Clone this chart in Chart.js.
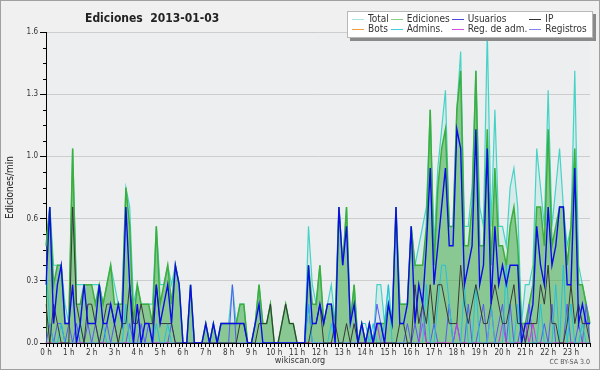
<!DOCTYPE html>
<html>
<head>
<meta charset="utf-8">
<script src="https://cdn.jsdelivr.net/npm/chart.js@4.4.1/dist/chart.umd.min.js"></script>
<style>
html, body { margin: 0; padding: 0; background: #f0f0f0; }
#wrap { position: relative; width: 600px; height: 370px; overflow: hidden; }
#marco { position: absolute; left: 0; top: 0; width: 598px; height: 368px; border: 1px solid #a0a0a0; pointer-events: none; }
canvas { position: absolute; left: 0; top: 0; }
.txt { position: absolute; font-family: "DejaVu Sans Condensed", "DejaVu Sans", sans-serif; color: #222; white-space: pre; }
#titulo { left: 85px; top: 11px; font-size: 12px; font-weight: bold; }
#leyenda { left: 347px; top: 11px; background: #fff; border: 1px solid #b8b8b8; box-shadow: 3px 3px 0 #8a8a8a;
           padding: 2px 3px 3px 4px; display: grid; grid-template-columns: repeat(4, auto); font-size: 10px; line-height: 10px; color: #333; }
.item { display: flex; align-items: center; padding-right: 2px; }
.item i { display: inline-block; width: 12px; height: 1px; margin-right: 4px; }
#sitio { left: 0; width: 600px; text-align: center; top: 355px; font-size: 9px; color: #333; }
#lic { right: 10px; top: 358px; font-size: 7px; color: #555; }
</style>
</head>
<body>
<div id="wrap">
    <canvas id="grafico" width="600" height="370"></canvas>
    <div id="titulo" class="txt">Ediciones  2013-01-03</div>
    <div id="leyenda" class="txt"></div>
    <div id="sitio" class="txt">wikiscan.org</div>
    <div id="lic" class="txt">CC BY-SA 3.0</div>
    <div id="marco"></div>
</div>
<script>
// franjas de 10 minutos (0:00 ... 23:50)
const franjas = [];
for (let h = 0; h < 24; h++) {
    for (let m = 0; m < 60; m += 10) franjas.push(h + ':' + String(m).padStart(2, '0'));
}

// ediciones por minuto, una fila por hora
const total = [
    0.5,0.7,0.4,0.4,0.4,0.2,  0.1,1.0,0.3,0.3,0.3,0.3,  0.3,0.3,0.3,0.2,0.3,0.4,  0.3,0.2,0.2,0.8,0.7,0.2,
    0.3,0.2,0.2,0.2,0.2,0.6,  0.3,0.3,0.4,0.3,0.4,0.3,  0.0,0.0,0.3,0.0,0.0,0.0,  0.1,0.0,0.1,0.0,0.1,0.1,
    0.1,0.3,0.1,0.2,0.2,0.0,  0.0,0.1,0.3,0.1,0.1,0.2,  0.0,0.0,0.1,0.2,0.1,0.1,  0.0,0.0,0.0,0.6,0.3,0.2,
    0.4,0.1,0.2,0.3,0.1,0.7,  0.4,0.7,0.1,0.3,0.0,0.1,  0.0,0.1,0.0,0.3,0.3,0.1,  0.3,0.1,0.7,0.2,0.2,0.2,
    0.6,0.4,0.5,0.6,0.7,1.2,  0.5,0.9,1.1,1.3,0.6,0.6,  1.2,1.5,0.6,0.6,0.8,1.4,  0.7,0.6,1.6,0.6,1.2,0.6,
    0.6,0.5,0.8,0.9,0.7,0.1,  0.3,0.3,0.4,1.0,0.8,0.6,  1.3,0.6,0.8,1.0,0.7,0.5,  0.6,1.4,0.4,0.3,0.2,0.1
];
const ediciones = [
    0.5,0.7,0.3,0.4,0.4,0.1,  0.1,1.0,0.2,0.2,0.3,0.3,  0.3,0.2,0.3,0.2,0.3,0.4,  0.2,0.2,0.2,0.8,0.6,0.1,
    0.3,0.2,0.2,0.2,0.1,0.6,  0.2,0.3,0.4,0.2,0.4,0.3,  0.0,0.0,0.3,0.0,0.0,0.0,  0.1,0.0,0.1,0.0,0.1,0.1,
    0.1,0.1,0.1,0.2,0.2,0.0,  0.0,0.1,0.3,0.1,0.1,0.2,  0.0,0.0,0.1,0.2,0.1,0.1,  0.0,0.0,0.0,0.4,0.2,0.2,
    0.4,0.1,0.2,0.2,0.1,0.7,  0.4,0.7,0.1,0.3,0.0,0.1,  0.0,0.1,0.0,0.1,0.1,0.1,  0.2,0.1,0.7,0.2,0.2,0.2,
    0.6,0.4,0.4,0.4,0.6,1.2,  0.4,0.8,1.0,1.1,0.6,0.6,  1.2,1.4,0.5,0.5,0.7,1.4,  0.5,0.5,1.1,0.4,0.9,0.5,
    0.5,0.4,0.6,0.7,0.5,0.1,  0.1,0.2,0.3,0.7,0.7,0.5,  1.1,0.5,0.6,0.7,0.7,0.4,  0.6,1.0,0.3,0.3,0.2,0.1
];
const usuarios = [
    0.3,0.7,0.1,0.3,0.4,0.1,  0.1,0.3,0.0,0.1,0.3,0.1,  0.1,0.1,0.3,0.1,0.1,0.2,  0.1,0.2,0.1,0.7,0.3,0.0,
    0.2,0.0,0.1,0.1,0.0,0.3,  0.1,0.2,0.3,0.1,0.4,0.3,  0.0,0.0,0.3,0.0,0.0,0.0,  0.1,0.0,0.1,0.0,0.1,0.1,
    0.1,0.1,0.1,0.1,0.1,0.0,  0.0,0.1,0.2,0.0,0.0,0.0,  0.0,0.0,0.0,0.0,0.0,0.0,  0.0,0.0,0.0,0.4,0.1,0.1,
    0.2,0.1,0.2,0.2,0.0,0.7,  0.4,0.6,0.1,0.2,0.0,0.1,  0.0,0.1,0.0,0.1,0.1,0.0,  0.2,0.1,0.7,0.1,0.1,0.2,
    0.6,0.1,0.3,0.2,0.5,0.9,  0.3,0.5,0.7,0.9,0.5,0.5,  1.1,1.0,0.3,0.4,0.5,1.1,  0.3,0.4,1.0,0.2,0.6,0.3,
    0.4,0.3,0.4,0.4,0.4,0.0,  0.1,0.1,0.2,0.6,0.4,0.3,  0.7,0.4,0.5,0.7,0.7,0.3,  0.3,0.9,0.1,0.2,0.1,0.1
];
const ip = [
    0.2,0.0,0.2,0.1,0.0,0.0,  0.0,0.7,0.2,0.1,0.0,0.2,  0.2,0.1,0.0,0.1,0.2,0.2,  0.1,0.0,0.1,0.1,0.3,0.1,
    0.1,0.2,0.1,0.1,0.1,0.3,  0.1,0.1,0.1,0.1,0.0,0.0,  0.0,0.0,0.0,0.0,0.0,0.0,  0.0,0.0,0.0,0.0,0.0,0.0,
    0.0,0.0,0.0,0.1,0.1,0.0,  0.0,0.0,0.1,0.1,0.1,0.2,  0.0,0.0,0.1,0.2,0.1,0.1,  0.0,0.0,0.0,0.0,0.1,0.1,
    0.2,0.0,0.0,0.0,0.1,0.0,  0.0,0.1,0.0,0.1,0.0,0.0,  0.0,0.0,0.0,0.0,0.0,0.0,  0.0,0.0,0.0,0.1,0.1,0.0,
    0.0,0.3,0.1,0.2,0.1,0.3,  0.1,0.3,0.3,0.2,0.1,0.1,  0.1,0.4,0.2,0.1,0.2,0.3,  0.2,0.1,0.1,0.2,0.3,0.2,
    0.1,0.1,0.2,0.3,0.1,0.1,  0.0,0.1,0.1,0.1,0.3,0.2,  0.4,0.1,0.1,0.0,0.0,0.1,  0.3,0.1,0.2,0.1,0.1,0.0
];
const bots = new Array(144).fill(0);
const admins = [
    0.4,0.1,0.0,0.0,0.1,0.0,  0.0,0.0,0.0,0.1,0.0,0.0,  0.0,0.0,0.0,0.1,0.0,0.0,  0.0,0.0,0.0,0.2,0.0,0.0,
    0.0,0.0,0.0,0.0,0.0,0.1,  0.0,0.0,0.1,0.0,0.0,0.0,  0.0,0.0,0.0,0.0,0.0,0.0,  0.0,0.0,0.0,0.0,0.0,0.0,
    0.0,0.0,0.0,0.0,0.0,0.0,  0.0,0.0,0.0,0.0,0.0,0.0,  0.0,0.0,0.0,0.0,0.0,0.0,  0.0,0.0,0.0,0.2,0.0,0.0,
    0.0,0.0,0.0,0.1,0.0,0.0,  0.0,0.0,0.0,0.0,0.0,0.1,  0.1,0.0,0.1,0.0,0.0,0.1,  0.3,0.0,0.0,0.0,0.0,0.0,
    0.0,0.0,0.0,0.0,0.3,0.0,  0.0,0.2,0.4,0.4,0.2,0.0,  0.0,0.0,0.3,0.0,0.0,0.3,  0.0,0.0,0.0,0.2,0.0,0.0,
    0.0,0.4,0.0,0.0,0.2,0.0,  0.0,0.0,0.0,0.0,0.2,0.0,  0.0,0.0,0.3,0.0,0.4,0.0,  0.2,0.0,0.0,0.1,0.0,0.0
];
const regAdm = [
    0,0,0,0,0,0,  0,0,0,0,0,0,  0,0,0,0,0,0,  0,0,0,0,0,0,
    0,0,0,0,0,0,  0,0,0,0,0,0,  0,0,0,0,0,0,  0,0,0,0,0,0,
    0,0,0,0,0,0,  0,0,0,0,0,0,  0,0,0,0,0,0,  0,0,0,0,0,0,
    0,0,0,0,0,0,  0,0,0,0,0,0,  0,0,0,0.1,0,0,  0,0,0,0,0,0,
    0,0,0,0.1,0,0,  0,0,0,0,0,0,  0.1,0,0,0,0,0,  0,0,0,0.2,0,0,
    0.1,0,0,0,0,0,  0.1,0,0.1,0,0,0,  0,0,0,0,0,0,  0,0,0,0,0,0
];
const registros = [
    0.0,0.1,0.0,0.1,0.1,0.0,  0.1,0.0,0.1,0.0,0.0,0.1,  0.0,0.1,0.0,0.0,0.1,0.0,  0.1,0.0,0.0,0.0,0.1,0.0,
    0.0,0.1,0.0,0.1,0.0,0.0,  0.0,0.0,0.0,0.1,0.0,0.0,  0.0,0.0,0.0,0.0,0.0,0.0,  0.0,0.0,0.0,0.0,0.0,0.0,
    0.0,0.3,0.0,0.0,0.0,0.0,  0.0,0.0,0.0,0.0,0.0,0.0,  0.0,0.0,0.0,0.0,0.0,0.0,  0.0,0.0,0.0,0.2,0.0,0.0,
    0.0,0.0,0.0,0.0,0.0,0.0,  0.0,0.0,0.0,0.0,0.0,0.0,  0.0,0.0,0.0,0.2,0.1,0.0,  0.0,0.0,0.0,0.0,0.0,0.1,
    0.0,0.1,0.0,0.2,0.0,0.0,  0.1,0.0,0.0,0.0,0.2,0.0,  0.1,0.0,0.0,0.2,0.0,0.0,  0.1,0.2,0.0,0.0,0.0,0.1,
    0.2,0.0,0.2,0.0,0.0,0.1,  0.0,0.2,0.0,0.0,0.0,0.1,  0.0,0.2,0.0,0.0,0.0,0.2,  0.0,0.0,0.1,0.0,0.2,0.0
];

const FUENTE = '"DejaVu Sans Condensed", "DejaVu Sans", sans-serif';

const serie = (label, data, color, legendColor, extra) => Object.assign({
    label, data, borderColor: color, legendColor,
    borderWidth: 1, pointRadius: 0, tension: 0, fill: false
}, extra);

const fondo = {
    id: 'fondo',
    beforeDraw(chart) {
        const { ctx, chartArea: a } = chart;
        ctx.save();
        ctx.fillStyle = '#f0f0f0';
        ctx.fillRect(0, 0, chart.width, chart.height);
        ctx.fillStyle = '#eceef0';
        ctx.fillRect(a.left, a.top, a.right - a.left, a.bottom - a.top);
        ctx.restore();
    },
    afterDraw(chart) {
        // marcas menores del eje Y
        const y = chart.scales.y, ctx = chart.ctx;
        ctx.save();
        ctx.strokeStyle = '#000';
        ctx.lineWidth = 1;
        for (let k = 1; k < 20; k++) {
            if (k % 4 === 0) continue;
            const py = Math.round(y.getPixelForValue(k * 0.08)) + 0.5;
            ctx.beginPath();
            ctx.moveTo(y.right - 3, py);
            ctx.lineTo(y.right, py);
            ctx.stroke();
        }
        ctx.restore();
    }
};

const chart = new Chart(document.getElementById('grafico'), {
    type: 'line',
    data: {
        labels: franjas,
        datasets: [
            serie('Total', total, '#45d3c6', '#a8e4e4', { fill: 'origin', backgroundColor: 'rgba(80,210,195,0.13)', borderWidth: 1.2, order: 8 }),
            serie('Ediciones', ediciones, '#3cae3c', '#86d086', { fill: 'origin', backgroundColor: 'rgba(60,165,60,0.5)', borderWidth: 1.5, order: 7 }),
            serie('Usuarios', usuarios, '#0c0ce8', '#4848e0', { borderWidth: 1.4, order: 1 }),
            serie('IP', ip, '#383838', '#333333', { order: 2 }),
            serie('Bots', bots, '#f0a030', '#f0a040', { order: 6 }),
            serie('Admins.', admins, '#22c2dc', '#48cce0', { order: 3 }),
            serie('Reg. de adm.', regAdm, '#c23ee0', '#d050e0', { order: 4 }),
            serie('Registros', registros, '#5858f2', '#8484f0', { order: 5 })
        ]
    },
    options: {
        responsive: false,
        animation: false,
        devicePixelRatio: 1,
        layout: { padding: { top: 32, right: 10, bottom: 0, left: 0 } },
        plugins: { legend: { display: false }, title: { display: false }, tooltip: { enabled: false } },
        scales: {
            x: {
                z: 1,
                offset: false,
                afterFit: (s) => { s.height = 27; },
                border: { color: '#000', width: 1 },
                grid: { drawOnChartArea: false, tickColor: '#000', tickLength: 4 },
                ticks: {
                    autoSkip: false, maxRotation: 0, minRotation: 0, padding: 1,
                    color: '#333', font: { family: FUENTE, size: 8 },
                    callback: (v, i) => (i % 6 === 0 ? (i / 6) + ' h' : '')
                }
            },
            y: {
                min: 0, max: 1.6,
                afterFit: (s) => { s.width = 46; },
                border: { color: '#000', width: 1 },
                grid: { color: '#cdcdcd', tickColor: '#000', tickLength: 6 },
                ticks: {
                    stepSize: 0.32, padding: 2,
                    color: '#333', font: { family: FUENTE, size: 8 },
                    callback: (v) => v.toFixed(1)
                },
                title: {
                    display: true, text: 'Ediciones/min', color: '#222',
                    font: { family: FUENTE, size: 10 }, padding: { top: 4, bottom: 0 }
                }
            }
        }
    },
    plugins: [fondo]
});

// leyenda en 4 columnas
document.getElementById('leyenda').innerHTML = chart.data.datasets.map(d =>
    `<span class="item"><i style="background:${d.legendColor}"></i>${d.label}</span>`
).join('');
</script>
</body>
</html>
